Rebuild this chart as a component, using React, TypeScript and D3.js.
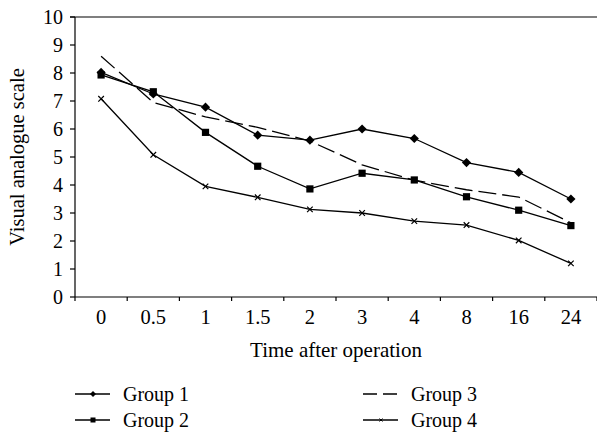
import React from "react";
import * as d3 from "d3";

const categories = ["0", "0.5", "1", "1.5", "2", "3", "4", "8", "16", "24"];
const group1 = [8.02, 7.25, 6.78, 5.78, 5.6, 6.0, 5.66, 4.8, 4.45, 3.5];
const group2 = [7.93, 7.33, 5.88, 4.67, 3.86, 4.42, 4.18, 3.58, 3.1, 2.55];
const group3 = [8.6, 6.95, 6.43, 6.06, 5.57, 4.72, 4.17, 3.83, 3.57, 2.65];
const group4 = [7.08, 5.08, 3.95, 3.56, 3.13, 3.0, 2.71, 2.57, 2.02, 1.2];
const yTicks = [0, 1, 2, 3, 4, 5, 6, 7, 8, 9, 10];
const seriesNames = ["Group 1", "Group 2", "Group 3", "Group 4"];

const W = 597, H = 432;
const left = 75, right = 597, top = 17, bottom = 297;
const font = "'Liberation Serif', 'DejaVu Serif', serif";

function Marker({ kind, x, y }: { kind: string; x: number; y: number }) {
  if (kind === "diamond") {
    const s = 4.6;
    return <path d={`M${x},${y - s}L${x + s},${y}L${x},${y + s}L${x - s},${y}Z`} fill="#000" />;
  }
  if (kind === "square") {
    const s = 3.6;
    return <rect x={x - s} y={y - s} width={2 * s} height={2 * s} fill="#000" />;
  }
  if (kind === "cross") {
    const s = 2.8;
    return <path d={`M${x - s},${y - s}L${x + s},${y + s}M${x + s},${y - s}L${x - s},${y + s}`} stroke="#000" strokeWidth={1.2} />;
  }
  return null;
}

export default function App() {
  const x = d3.scaleBand<string>().domain(categories).range([left, right]);
  const y = d3.scaleLinear().domain([0, 10]).range([bottom, top]);
  const cx = (c: string) => (x(c) as number) + x.bandwidth() / 2;
  const line = d3.line<number>().x((_, i) => cx(categories[i])).y((d) => y(d));
  const series = [
    { name: seriesNames[0], data: group1, marker: "diamond", dash: "" },
    { name: seriesNames[1], data: group2, marker: "square", dash: "" },
    { name: seriesNames[2], data: group3, marker: "none", dash: "18,6" },
    { name: seriesNames[3], data: group4, marker: "cross", dash: "" },
  ];
  const boundaries = categories.map((c) => x(c) as number).concat([right]);
  const legendPos = [
    { lx: 75, ly: 394 },
    { lx: 75, ly: 420 },
    { lx: 363, ly: 394 },
    { lx: 363, ly: 420 },
  ];
  return (
    <svg width={W} height={H} style={{ position: "absolute", left: 0, top: 0, background: "#fff" }} fontFamily={font}>
      <rect width={W} height={H} fill="#fff" />
      <line x1={70} x2={right} y1={top} y2={top} stroke="#000" strokeWidth={1.2} />
      <line x1={left} x2={left} y1={top} y2={bottom} stroke="#000" strokeWidth={1.2} />
      {yTicks.map((t) => (
        <g key={t}>
          <line x1={70} x2={left} y1={y(t)} y2={y(t)} stroke="#000" strokeWidth={1.2} />
          <text x={63} y={y(t)} dy="0.34em" textAnchor="end" fontSize={20}>{t}</text>
        </g>
      ))}
      <line x1={left} x2={right} y1={bottom} y2={bottom} stroke="#000" strokeWidth={1.2} />
      {boundaries.map((b, i) => (
        <line key={i} x1={b} x2={b} y1={bottom} y2={bottom + 4} stroke="#000" strokeWidth={1.2} />
      ))}
      {categories.map((c) => (
        <text key={c} x={cx(c)} y={324} textAnchor="middle" fontSize={20.5}>{c}</text>
      ))}
      <text x={336} y={357} textAnchor="middle" fontSize={21}>Time after operation</text>
      <text transform={`translate(24,157) rotate(-90)`} textAnchor="middle" fontSize={20.5}>Visual analogue scale</text>
      {series.map((s) => (
        <g key={s.name}>
          <path d={line(s.data) as string} fill="none" stroke="#000" strokeWidth={1.3} strokeDasharray={s.dash || undefined} />
          {s.data.map((v, i) => (
            <Marker key={i} kind={s.marker} x={cx(categories[i])} y={y(v)} />
          ))}
        </g>
      ))}
      {series.map((s, i) => {
        const { lx, ly } = legendPos[i];
        const mx = lx + 18;
        return (
          <g key={s.name}>
            <line x1={lx} x2={lx + 35} y1={ly} y2={ly} stroke="#000" strokeWidth={1.3} strokeDasharray={s.dash ? "14,6" : undefined} />
            {s.marker === "diamond" && <path d={`M${mx},${ly - 3}L${mx + 3},${ly}L${mx},${ly + 3}L${mx - 3},${ly}Z`} fill="#000" />}
            {s.marker === "square" && <rect x={mx - 2.5} y={ly - 2.5} width={5} height={5} fill="#000" />}
            {s.marker === "cross" && <path d={`M${mx - 1.5},${ly - 1.5}L${mx + 1.5},${ly + 1.5}M${mx + 1.5},${ly - 1.5}L${mx - 1.5},${ly + 1.5}`} stroke="#000" strokeWidth={1} />}
            <text x={lx + 48} y={ly} dy="0.33em" fontSize={20}>{s.name}</text>
          </g>
        );
      })}
    </svg>
  );
}
